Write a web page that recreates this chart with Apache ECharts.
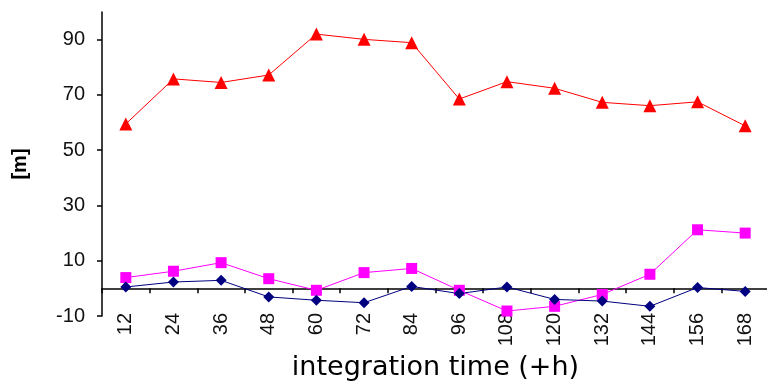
<!DOCTYPE html>
<html>
<head>
<meta charset="utf-8">
<script src="https://cdn.jsdelivr.net/npm/echarts@6/dist/echarts.min.js"></script>
<style>
  html, body { margin: 0; padding: 0; background: #fff; }
  #chart { width: 767px; height: 381px; }
</style>
</head>
<body>
<div id="chart"></div>
<script>
// integration time steps (+h)
var hours = ['12', '24', '36', '48', '60', '72', '84', '96', '108', '120', '132', '144', '156', '168'];

// values, in [m]
var redSeries = [59.5, 75.8, 74.5, 77.2, 92.0, 90.1, 88.9, 68.5, 74.8, 72.4, 67.3, 66.1, 67.5, 58.8];
var pinkSeries = [3.9, 6.2, 9.3, 3.5, -0.7, 5.7, 7.2, -0.7, -8.2, -6.5, -2.2, 5.1, 21.2, 20.0];
var navySeries = [0.5, 2.3, 2.9, -3.1, -4.3, -5.2, 0.7, -1.9, 0.5, -4.0, -4.6, -6.5, 0.3, -1.1];

var yTicks = { min: -10, max: 100, interval: 20 };

var font = '"Liberation Sans", Arial, sans-serif';

var mcharts = echarts.init(document.getElementById('chart'));

function lineSeries(name, data, color, symbol, size) {
    return {
        name: name,
        type: 'line',
        data: data,
        xAxisIndex: 0,
        symbol: symbol,
        symbolSize: size,
        showAllSymbol: true,
        lineStyle: { color: color, width: 1 },
        itemStyle: { color: color },
        animation: false
    };
}

var option = {
    backgroundColor: '#fff',
    textStyle: { fontFamily: font },
    grid: { left: 102, right: -2, top: 12, bottom: 65, containLabel: false, outerBoundsMode: 'none' },
    xAxis: [
        {
            // line on zero with ticks
            type: 'category',
            data: hours,
            boundaryGap: true,
            axisLine: { onZero: true, lineStyle: { color: '#000', width: 1.5 } },
            axisTick: { show: true, inside: false, length: 5, lineStyle: { color: '#000', width: 1.5 } },
            axisLabel: { show: false },
            splitLine: { show: false }
        },
        {
            // labels along the bottom
            type: 'category',
            data: hours,
            position: 'bottom',
            boundaryGap: true,
            axisLine: { show: false, onZero: false },
            axisTick: { show: false },
            axisLabel: {
                rotate: 90,
                margin: -3,
                fontSize: 20,
                color: '#111',
                fontFamily: font,
                interval: 0
            },
            name: 'integration time (+h)',
            nameLocation: 'middle',
            nameGap: 30,
            nameTextStyle: { fontSize: 27, color: '#000', fontFamily: '"DejaVu Sans", sans-serif' }
        }
    ],
    yAxis: {
        type: 'value',
        min: yTicks.min,
        max: yTicks.max,
        interval: yTicks.interval,
        axisLine: { show: true, lineStyle: { color: '#000', width: 1.5 } },
        axisTick: { show: true, length: 5, lineStyle: { color: '#000', width: 1.5 } },
        axisLabel: { fontSize: 20, color: '#111', margin: 17, showMaxLabel: false, fontFamily: font },
        splitLine: { show: false },
        name: '[m]',
        nameLocation: 'middle',
        nameRotate: 90,
        nameGap: 72,
        nameTextStyle: { fontSize: 20, fontWeight: 'bold', color: '#000', fontFamily: font }
    },
    series: [
        lineSeries('red', redSeries, '#ff0000', 'triangle', 13),
        lineSeries('pink', pinkSeries, '#ff00ff', 'rect', 11),
        lineSeries('navy', navySeries, '#000080', 'diamond', 11)
    ]
};

mcharts.setOption(option, true);
</script>
</body>
</html>
